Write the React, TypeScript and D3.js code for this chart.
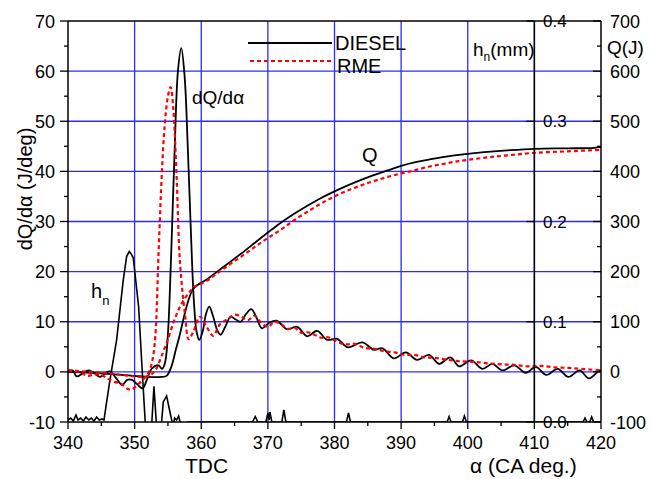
import React from 'react';
import * as d3 from 'd3';

// crank angle (deg) vs. value
const dieselDQ: [number, number][] = [
  [340, -0.2], [340.7, 0.3], [341.3, -0.9], [342.2, -0.3], [343.1, 0.3], [344, -0.3], [344.8, -1.0],
  [345.6, -0.3], [346.3, 0.1], [347.2, -1.2], [348.1, -2.6], [348.9, -1.6], [349.6, -1.6], [350.4, -2.5],
  [351.2, -3.3], [351.8, -1.7], [352.6, 0.7], [353.6, 1.3], [354.1, 0.6], [354.5, 1.5], [354.8, 4],
  [355.1, 10], [355.5, 24], [356.0, 44], [356.5, 60], [357.0, 64.6], [357.5, 59], [358.0, 44],
  [358.5, 26], [358.9, 14], [359.3, 8], [359.7, 6.4], [360.2, 8], [360.7, 11.5], [361.2, 13.0],
  [361.8, 11], [362.4, 8.3], [362.9, 7.4], [363.6, 9], [364.4, 11.0], [365.1, 10.5], [365.9, 10.0],
  [366.7, 11.5], [367.5, 12.5], [368.3, 10.8], [369.1, 8.7], [370.2, 9.8], [371.3, 10.2], [372.9, 8.5],
  [374.4, 9.0], [375.9, 7.1], [377.4, 8.2], [378.9, 6.4], [380.4, 6.6], [382.0, 4.9], [384.2, 5.9],
  [385.9, 4.4], [387.2, 4.7], [388.9, 2.7], [390.7, 3.9], [392.4, 2.4], [394.2, 3.4], [395.7, 1.6],
  [397.4, 2.9], [398.7, 1.1], [400.5, 2.3], [402.2, 0.6], [403.7, 1.6], [405.2, 0.3], [407.0, 1.3],
  [408.7, -0.2], [410.2, 1.0], [411.8, -0.6], [413.5, 0.6], [415.1, -1.0], [416.8, 0.3], [418.2, -1.3],
  [419.8, 0.3], [420, 0.2],
];

const rmeDQ: [number, number][] = [
  [340, 0.3], [341, 0.2], [342, -0.2], [343, -0.8], [344, -0.5], [345, -0.6], [346, -1.4], [347, -2.0],
  [348, -2.4], [349, -3.4], [349.6, -3.5], [350.5, -2.5], [351.5, -1.2], [352.2, 0.2], [352.7, 2.5],
  [353.1, 7], [353.6, 24], [354.1, 40], [354.5, 49], [355, 55], [355.4, 56.8], [355.8, 52.5],
  [356.3, 39], [356.8, 22], [357.6, 11], [358.1, 6.5], [358.8, 8], [359.8, 11], [360.8, 9],
  [361.8, 7.2], [362.8, 9.5], [364, 10.6], [365, 11.4], [366, 11], [367, 10.3], [368, 11.2],
  [369, 9.8], [370, 9], [371, 10], [372, 9.5], [373, 8.6], [374, 8.8], [375, 7.8], [376, 7.9],
  [377, 7.4], [378, 6.8], [379, 6.9], [380, 6.3], [381.5, 5.5], [383, 5.6], [384.5, 4.8], [386, 4.6],
  [387.5, 4.1], [389, 3.9], [390.5, 3.4], [392, 3.4], [393.5, 2.9], [395, 2.8], [397, 2.4], [399, 2.1],
  [401, 2.0], [403, 1.7], [405, 1.5], [407, 1.4], [409, 1.1], [411, 1.2], [413, 0.9], [415, 0.8],
  [417, 0.6], [420, 0.3],
];

// heat released Q (J)
const dieselQ: [number, number][] = [
  [340, 0], [342, -1], [344, -2], [346, -4], [348, -6], [350, -8], [352, -10], [354, -10], [354.8, -8],
  [355.5, 10], [356.2, 45], [356.8, 75], [357.5, 115], [358.2, 148], [358.8, 166], [359.5, 174],
  [360, 178], [361, 186], [362, 196], [364, 216], [366, 236], [368, 257], [370, 278], [372, 298],
  [374, 316], [376, 332], [378, 347], [380, 360], [382, 372], [384, 383], [386, 393], [388, 402],
  [390, 411], [392, 418], [394, 423], [396, 428], [398, 432], [400, 435], [403, 439], [406, 442],
  [410, 445], [415, 446], [419, 447], [420, 449],
];

const rmeQ: [number, number][] = [
  [340, 3], [342, 1], [344, -1], [346, -3], [348, -6], [350, -9], [351.5, -10], [352.5, -5],
  [353.2, 5], [354, 30], [355, 65], [356, 105], [357, 135], [358, 155], [359, 170], [360, 176],
  [361, 183], [362, 193], [364, 212], [366, 230], [368, 249], [370, 267], [372, 284], [374, 303],
  [376, 320], [378, 336], [380, 350], [382, 362], [384, 372], [386, 381], [388, 389], [390, 396],
  [392, 402], [394, 409], [396, 414], [398, 419], [400, 423], [403, 428], [406, 432], [410, 437],
  [415, 440], [420, 443],
];

// needle lift h_n (mm)
const needleLift: [number, number][] = [
  [340, 0.002], [340.4, 0.004], [340.8, 0.001], [341.2, 0.007], [341.5, 0.002], [341.9, 0.004],
  [342.3, 0.001], [342.7, 0.005], [343.1, 0.002], [343.5, 0.004], [343.9, 0.001], [344.3, 0.005],
  [344.7, 0.002], [345.1, 0.003], [345.4, 0.002], [345.8, 0.02], [346.3, 0.042], [347.3, 0.082],
  [348.3, 0.142], [348.8, 0.165], [349.2, 0.170], [349.5, 0.1675], [349.8, 0.1635], [350.6, 0.115],
  [351.1, 0.0555], [351.6, -0.001], [352.1, -0.04], [352.5, -0.01], [352.9, 0.0355], [353.3, -0.005],
  [353.8, -0.02], [354.3, 0.02], [354.8, 0.026], [355.3, 0.01], [355.8, -0.005], [356.0, 0.004],
  [356.3, 0.002], [356.6, 0.006], [357, -0.005], [358, 0], [367.7, 0], [368.1, 0.0055], [368.5, 0],
  [369.7, 0], [370, 0.009], [370.2, 0.002], [370.3, 0.01], [370.6, 0], [372.1, 0], [372.4, 0.012],
  [372.7, 0], [381.8, 0], [382.1, 0.009], [382.4, 0], [396.9, 0], [397.2, 0.0055], [397.5, 0],
  [399.2, 0], [399.5, 0.006], [399.8, 0], [417.3, 0], [417.6, 0.004], [417.9, 0], [418.3, 0],
  [418.6, 0.005], [418.9, 0], [420, 0],
];

const xTicks = [340, 350, 360, 370, 380, 390, 400, 410, 420];
const dqTicks = [-10, 0, 10, 20, 30, 40, 50, 60, 70];
const qTicks = [-100, 0, 100, 200, 300, 400, 500, 600, 700];
const hTicks = [0.0, 0.1, 0.2, 0.3, 0.4];

const font = 'Liberation Sans, Arial, sans-serif';

const App = () => {
  const left = 68, right = 601, top = 21, bottom = 422;
  const x = d3.scaleLinear().domain([340, 420]).range([left, right]);
  const y = d3.scaleLinear().domain([-10, 70]).range([bottom, top]);
  const yQ = d3.scaleLinear().domain([-100, 700]).range([bottom, top]);
  const yH = d3.scaleLinear().domain([0, 0.4]).range([bottom, top]);

  const curve = d3.curveCatmullRom.alpha(0.5);
  const lineDQ = d3.line<[number, number]>().x(d => x(d[0])).y(d => y(d[1])).curve(curve);
  const lineQ = d3.line<[number, number]>().x(d => x(d[0])).y(d => yQ(d[1])).curve(curve);
  const lineH = d3.line<[number, number]>().x(d => x(d[0])).y(d => yH(d[1])).curve(d3.curveLinear);

  const grid = '#2b2bff';
  const minorX = d3.range(345, 420, 10);
  const minorY = d3.range(-5, 70, 10);
  const minorQ = d3.range(-50, 700, 100);
  const hnAxisX = x(410);

  return (
    <svg width={652} height={479} style={{ position: 'absolute', left: 0, top: 0, background: '#fff' }}
      fontFamily={font}>
      <defs>
        <clipPath id="plot">
          <rect x={left} y={top} width={right - left} height={bottom - top} />
        </clipPath>
      </defs>

      {/* grid */}
      {xTicks.slice(1, -1).map(t => (
        <line key={'gx' + t} x1={x(t)} x2={x(t)} y1={top} y2={bottom} stroke={grid} strokeWidth={1.3} />
      ))}
      {dqTicks.slice(1, -1).map(t => (
        <line key={'gy' + t} x1={left} x2={right} y1={y(t)} y2={y(t)} stroke={grid} strokeWidth={1.3} />
      ))}

      {/* legend */}
      <line x1={248} x2={332} y1={43} y2={43} stroke="#000" strokeWidth={1.8} />
      <text x={335} y={50} fontSize={20}>DIESEL</text>
      <line x1={250} x2={332} y1={61} y2={61} stroke="#f00" strokeWidth={2} strokeDasharray="4,3" />
      <text x={337} y={72.5} fontSize={20}>RME</text>

      <g clipPath="url(#plot)" fill="none">
        <path d={lineH(needleLift) ?? ''} stroke="#000" strokeWidth={1.6} />
        <path d={lineQ(dieselQ) ?? ''} stroke="#000" strokeWidth={1.8} />
        <path d={lineDQ(dieselDQ) ?? ''} stroke="#000" strokeWidth={1.8} />
        <path d={lineQ(rmeQ) ?? ''} stroke="#f00" strokeWidth={2.2} strokeDasharray="4,3" />
        <path d={lineDQ(rmeDQ) ?? ''} stroke="#f00" strokeWidth={2.2} strokeDasharray="4,3" />
      </g>

      {/* frame & axes */}
      <line x1={left} x2={right} y1={top} y2={top} stroke="#000" strokeWidth={1.5} />
      <line x1={left} x2={right} y1={bottom} y2={bottom} stroke="#000" strokeWidth={1.5} />
      <line x1={left} x2={left} y1={top} y2={bottom} stroke="#000" strokeWidth={1.5} />
      <line x1={right} x2={right} y1={top} y2={bottom} stroke="#000" strokeWidth={1.5} />
      <line x1={hnAxisX} x2={hnAxisX} y1={top} y2={bottom} stroke="#000" strokeWidth={1.5} />

      {/* bottom ticks */}
      {xTicks.map(t => (
        <g key={'xt' + t}>
          <line x1={x(t)} x2={x(t)} y1={bottom} y2={bottom + 7} stroke="#000" strokeWidth={1.3} />
          <text x={x(t)} y={449} fontSize={18} textAnchor="middle">{t}</text>
        </g>
      ))}
      {minorX.map(t => (
        <line key={'xm' + t} x1={x(t)} x2={x(t)} y1={bottom} y2={bottom + 4} stroke="#000" strokeWidth={1.3} />
      ))}

      {/* left axis */}
      {dqTicks.map(t => (
        <g key={'yt' + t}>
          <line x1={left - 8} x2={left} y1={y(t)} y2={y(t)} stroke="#000" strokeWidth={1.3} />
          <text x={55} y={y(t) + 6.5} fontSize={18} textAnchor="end">{t}</text>
        </g>
      ))}
      {minorY.map(t => (
        <line key={'ym' + t} x1={left - 4} x2={left} y1={y(t)} y2={y(t)} stroke="#000" strokeWidth={1.3} />
      ))}

      {/* right Q axis */}
      {qTicks.map(t => (
        <g key={'qt' + t}>
          <line x1={right - 8} x2={right} y1={yQ(t)} y2={yQ(t)} stroke="#000" strokeWidth={1.3} />
          <text x={610} y={yQ(t) + 6.5} fontSize={18}>{t}</text>
        </g>
      ))}
      {minorQ.map(t => (
        <line key={'qm' + t} x1={right - 4} x2={right} y1={yQ(t)} y2={yQ(t)} stroke="#000" strokeWidth={1.3} />
      ))}

      {/* inner h_n axis */}
      {hTicks.map(t => (
        <g key={'ht' + t}>
          <line x1={hnAxisX - 8} x2={hnAxisX} y1={yH(t)} y2={yH(t)} stroke="#000" strokeWidth={1.3} />
          <text x={543} y={yH(t) + 6} fontSize={17}>{t.toFixed(1)}</text>
        </g>
      ))}

      {/* axis titles */}
      <text transform="translate(32,189) rotate(-90)" fontSize={20} textAnchor="middle">dQ/dα (J/deg)</text>
      <text x={185} y={473} fontSize={21}>TDC</text>
      <text x={470} y={473} fontSize={21}>α (CA deg.)</text>
      <text x={607} y={54} fontSize={19}>Q(J)</text>
      <text x={473} y={56} fontSize={19}>h<tspan fontSize={12} dy={5}>n</tspan><tspan dy={-5}>(mm)</tspan></text>

      {/* annotations */}
      <text x={192} y={104} fontSize={19}>dQ/dα</text>
      <text x={362} y={162} fontSize={20}>Q</text>
      <text x={91} y={298} fontSize={20}>h<tspan fontSize={13} dy={7}>n</tspan></text>
    </svg>
  );
};

export default App;
